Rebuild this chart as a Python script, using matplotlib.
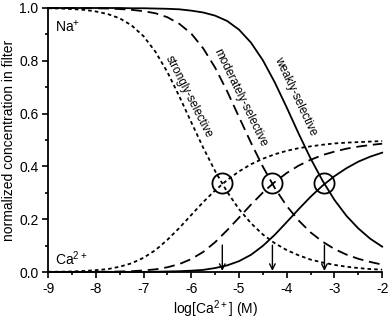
"""Na+ / Ca2+ occupancy of the selectivity filter vs log[Ca2+]"""
import matplotlib
matplotlib.use("Agg")
import matplotlib.pyplot as plt
from matplotlib.ticker import MultipleLocator

plt.rcParams['font.family'] = ['Liberation Sans', 'DejaVu Sans']
plt.rcParams['mathtext.default'] = 'regular'

# log[Ca2+] sample points (M)
log_ca = [-9.0, -8.75, -8.5, -8.25, -8.0, -7.75, -7.5, -7.25, -7.0, -6.75,
          -6.5, -6.25, -6.0, -5.75, -5.5, -5.25, -5.0, -4.75, -4.5, -4.25,
          -4.0, -3.75, -3.5, -3.25, -3.0, -2.75, -2.5, -2.25, -2.0]

# Na+ in filter
na_strong = [0.999, 0.998, 0.996, 0.993, 0.987, 0.977, 0.961, 0.934, 0.893, 0.834,
             0.757, 0.665, 0.567, 0.471, 0.382, 0.304, 0.238, 0.185, 0.142, 0.109,
             0.083, 0.063, 0.047, 0.036, 0.027, 0.020, 0.015, 0.011, 0.009]
na_moder = [1.000, 1.000, 1.000, 0.999, 0.999, 0.998, 0.996, 0.993, 0.988, 0.980,
            0.965, 0.940, 0.903, 0.847, 0.774, 0.685, 0.587, 0.490, 0.399, 0.318,
            0.250, 0.195, 0.150, 0.115, 0.087, 0.066, 0.050, 0.038, 0.028]
na_weak = [1.000, 1.000, 1.000, 1.000, 1.000, 1.000, 1.000, 0.999, 0.999, 0.998,
           0.997, 0.995, 0.990, 0.983, 0.971, 0.951, 0.918, 0.869, 0.802, 0.718,
           0.623, 0.524, 0.430, 0.346, 0.273, 0.213, 0.165, 0.126, 0.096]

# Ca2+ in filter
ca_strong = [0.001, 0.001, 0.002, 0.004, 0.007, 0.011, 0.020, 0.033, 0.054, 0.083,
             0.122, 0.167, 0.216, 0.265, 0.309, 0.348, 0.381, 0.408, 0.429, 0.446,
             0.459, 0.469, 0.476, 0.482, 0.487, 0.490, 0.492, 0.494, 0.496]
ca_moder = [0.000, 0.000, 0.000, 0.000, 0.001, 0.001, 0.002, 0.003, 0.006, 0.010,
            0.018, 0.030, 0.049, 0.076, 0.113, 0.158, 0.206, 0.255, 0.301, 0.341,
            0.375, 0.403, 0.425, 0.443, 0.456, 0.467, 0.475, 0.481, 0.486]
ca_weak = [0.000, 0.000, 0.000, 0.000, 0.000, 0.000, 0.000, 0.000, 0.000, 0.001,
           0.002, 0.003, 0.005, 0.008, 0.015, 0.025, 0.041, 0.065, 0.099, 0.141,
           0.189, 0.238, 0.285, 0.327, 0.363, 0.393, 0.418, 0.437, 0.452]

# crossing points (Na = Ca)
cross_x = [-5.35, -4.30, -3.21]
cross_y = [0.337, 0.337, 0.337]

fig = plt.figure(figsize=(3.88, 3.2), dpi=100)
ax = fig.add_axes([0.124, 0.15, 0.861, 0.825])

dot = dict(color='black', lw=1.3, dashes=[2.0, 1.7], clip_on=False)
dash = dict(color='black', lw=1.3, dashes=[6, 3.2], clip_on=False)
solid = dict(color='black', lw=1.3, clip_on=False)

ax.plot(log_ca, na_strong, **dot)
ax.plot(log_ca, ca_strong, **dot)
ax.plot(log_ca, na_moder, **dash)
ax.plot(log_ca, ca_moder, **dash)
ax.plot(log_ca, na_weak, **solid)
ax.plot(log_ca, ca_weak, **solid)

ax.plot(cross_x, cross_y, 'o', ms=14.5, mfc='none', mec='black', mew=1.3)

for x in cross_x:
    ax.annotate('', xy=(x, 0.004), xytext=(x, 0.102),
                arrowprops=dict(arrowstyle='->', lw=1.0, color='black',
                                shrinkA=0, shrinkB=0))

ax.text(-8.85, 0.93, 'Na$^{+}$', fontsize=10, va='center', ha='left')
ax.text(-8.85, 0.05, 'Ca$^{2+}$', fontsize=10, va='center', ha='left')

ax.text(-6.05, 0.665, 'strongly-selective', fontsize=8.5, rotation=-63,
        ha='center', va='center')
ax.text(-4.97, 0.66, 'moderately-selective', fontsize=8.5, rotation=-64,
        ha='center', va='center')
ax.text(-3.82, 0.665, 'weakly-selective', fontsize=8.5, rotation=-65,
        ha='center', va='center')

ax.set_xlim(-9, -2)
ax.set_ylim(0, 1.0)
ax.xaxis.set_major_locator(MultipleLocator(1))
ax.xaxis.set_minor_locator(MultipleLocator(0.5))
ax.yaxis.set_major_locator(MultipleLocator(0.2))
ax.yaxis.set_minor_locator(MultipleLocator(0.1))
ax.yaxis.set_major_formatter(matplotlib.ticker.FormatStrFormatter('%.1f'))
ax.xaxis.set_major_formatter(matplotlib.ticker.FormatStrFormatter('%d'))
ax.tick_params(which='major', direction='out', length=4, width=1.2,
               labelsize=10, pad=3)
ax.tick_params(which='minor', direction='out', length=2.5, width=1.2)
for s in ['top', 'right']:
    ax.spines[s].set_visible(False)
for s in ['left', 'bottom']:
    ax.spines[s].set_linewidth(1.3)

ax.set_xlabel('log[Ca$^{2+}$] (M)', fontsize=10, labelpad=2)
ax.set_ylabel('normalized concentration in filter', fontsize=10, labelpad=2)

plt.savefig('out.png', dpi=100)
plt.close()
